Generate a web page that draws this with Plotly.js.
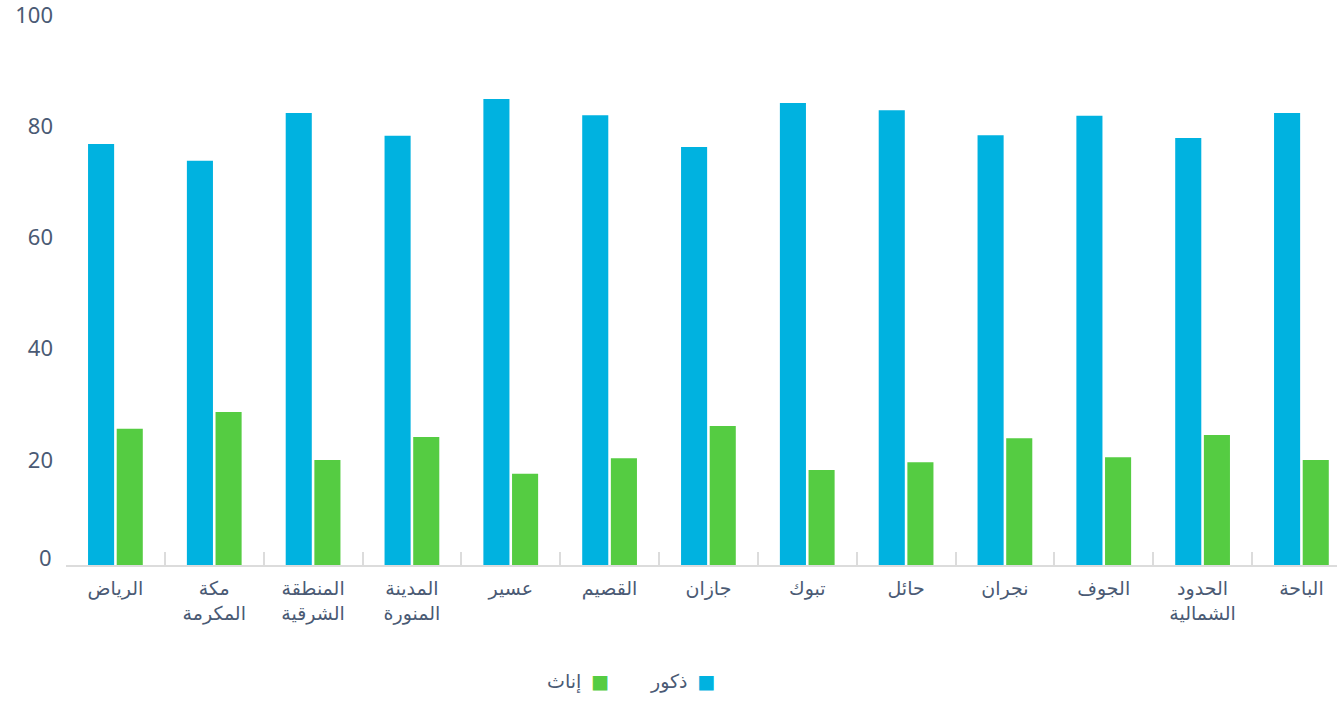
<!DOCTYPE html>
<html><head><meta charset="utf-8">
<script src="https://cdn.plot.ly/plotly-3.0.1.min.js"></script>
<style>html,body{margin:0;padding:0;background:#fff}#chart{width:1337px;height:701px}</style>
</head><body><div id="chart"></div>
<script>
const regions = ["الرياض","مكة<br>المكرمة","المنطقة<br>الشرقية","المدينة<br>المنورة","عسير","القصيم","جازان","تبوك","حائل","نجران","الجوف","الحدود<br>الشمالية","الباحة"];
const males   = [75.7, 72.7, 81.3, 77.2, 83.8, 80.9, 75.2, 83.1, 81.8, 77.3, 80.8, 76.8, 81.3];
const females = [24.5, 27.5, 18.9, 23.0, 16.4, 19.2, 25.0, 17.1, 18.5, 22.8, 19.4, 23.4, 18.9];
const seriesNames = ["ذكور", "إناث"];
const yTicks = [20, 40, 60, 80, 100];

const BLUE = "#00b2e0", GREEN = "#55cc42", TXT = "#4a5a74";
const FONT = "'Noto Sans', 'DejaVu Sans', sans-serif";

const traces = [
  {type:"bar", x:regions, y:males, name:seriesNames[0], marker:{color:BLUE}, hoverinfo:"y"},
  {type:"bar", x:regions, y:females, name:seriesNames[1], marker:{color:GREEN}, hoverinfo:"y"}
];

const layout = {
  width:1337, height:701,
  margin:{l:66, r:0, t:9, b:136},
  paper_bgcolor:"#fff", plot_bgcolor:"#fff",
  showlegend:false,
  barmode:"group", bargap:0.42, bargroupgap:0.09,
  font:{family:FONT, color:TXT, size:18},
  xaxis:{
    type:"category", range:[-0.5, 12.36],
    showline:true, linecolor:"#dcdcdc", linewidth:2,
    ticks:"inside", tickson:"boundaries", ticklen:13, tickwidth:2, tickcolor:"#dcdcdc",
    ticklabelstandoff:5,
    tickfont:{family:FONT, size:19, color:TXT},
    showgrid:false, zeroline:false, fixedrange:true
  },
  yaxis:{
    range:[0,100], tickvals:yTicks, showgrid:false, zeroline:false, showline:false,
    ticks:"", ticklabelstandoff:12, ticklabelshift:6, ticklabeloverflow:"allow",
    tickfont:{family:FONT, size:22, color:TXT}, fixedrange:true
  },
  annotations:[
    {xref:"paper", yref:"y", x:0, y:0, xanchor:"right", yanchor:"middle", xshift:-12, yshift:8,
     text:"0", showarrow:false, font:{family:FONT, size:22, color:TXT}},
    {xref:"paper", yref:"paper", x:(717-66)/1271, y:-(681-565)/556, xanchor:"right", yanchor:"middle",
     text:seriesNames[0]+'  <span style="color:'+BLUE+'">■</span>', showarrow:false, font:{family:FONT, size:19, color:TXT}},
    {xref:"paper", yref:"paper", x:(611-66)/1271, y:-(681-565)/556, xanchor:"right", yanchor:"middle",
     text:seriesNames[1]+'  <span style="color:'+GREEN+'">■</span>', showarrow:false, font:{family:FONT, size:19, color:TXT}}
  ]
};

Plotly.newPlot("chart", traces, layout, {displayModeBar:false, staticPlot:true});
</script></body></html>
